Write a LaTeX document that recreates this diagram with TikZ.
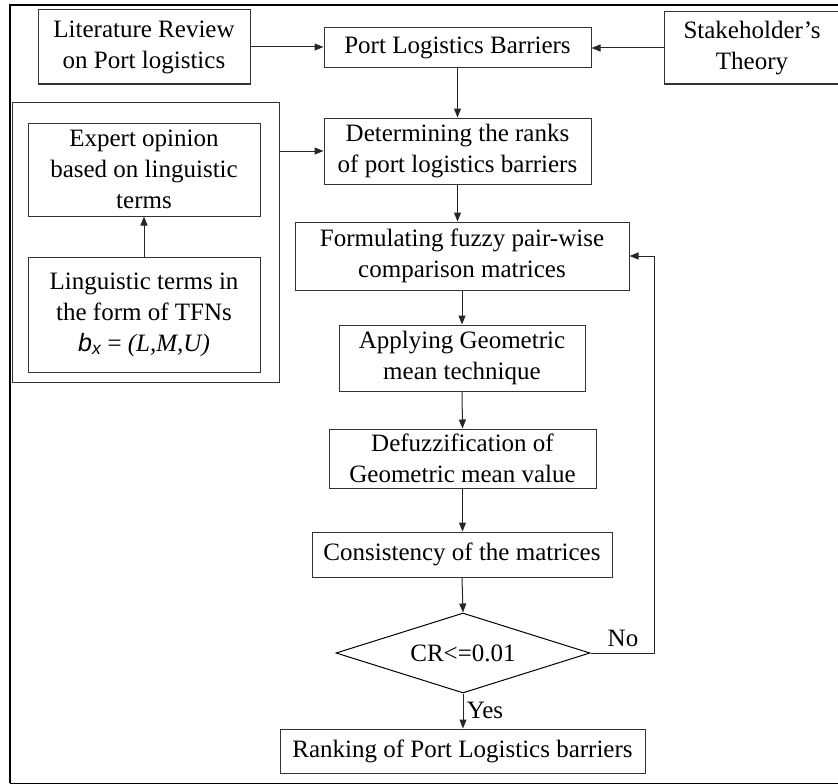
\documentclass[tikz,border=0pt]{standalone}
\usepackage{fontspec}
\setmainfont{Liberation Serif}
\newfontfamily\arialfont{Liberation Sans}
\usetikzlibrary{shapes.geometric,arrows.meta}

\tikzset{every picture/.style={line width=1pt}}
\tikzset{
	procbox/.style={draw=black!80, align=center, inner sep=0pt, font=\fontsize{25}{31}\selectfont},
	flowtext/.style={inner sep=0pt, font=\fontsize{25}{31}\selectfont},
	flowarrow/.style={draw=black!85, -{Triangle[length=9pt,width=7pt]}}
}

\begin{document}
\begin{tikzpicture}[x=1pt,y=1pt,yscale=-1,xscale=1]
	\useasboundingbox (0,0) rectangle (838,784);

	%Outer frame
	\draw [line width=2pt] (10,783) -- (10,5) -- (850,5) ;
	\draw (10,783) -- (850,783) ;

	%Shape: Rectangle [group of expert inputs]
	\node [draw=black!80, minimum width=267pt, minimum height=280pt] (grp) at (145.5,242) {};

	%Flowchart: Process
	\node [procbox, minimum width=212pt, minimum height=74pt] (lit) at (144,47) {Literature Review\\on Port logistics};
	\node [procbox, minimum width=267pt, minimum height=40pt] (plb) at (457.5,47.5) {Port Logistics Barriers};
	\node [procbox, minimum width=176pt, minimum height=72pt] (stk) at (752,48) {Stakeholder’s\\Theory};
	\node [procbox, minimum width=232pt, minimum height=93pt] (exp) at (144,169.5) {Expert opinion\\based on linguistic\\terms};
	\node [procbox, minimum width=232pt, minimum height=115pt] (lng) at (144,314.5) {Linguistic terms in\\the form of TFNs\\{\arialfont\itshape b\textsubscript{x}} = {\itshape (L,M,U)}};
	\node [procbox, minimum width=267pt, minimum height=66pt] (det) at (457.5,151) {Determining the ranks\\of port logistics barriers};
	\node [procbox, minimum width=334pt, minimum height=68pt] (frm) at (462,256) {Formulating fuzzy pair-wise\\comparison matrices};
	\node [procbox, minimum width=246pt, minimum height=66pt] (app) at (462,358) {Applying Geometric\\mean technique};
	\node [procbox, minimum width=267pt, minimum height=59pt] (dfz) at (462.5,458.5) {Defuzzification of\\Geometric mean value};
	\node [procbox, minimum width=300pt, minimum height=45pt] (cns) at (462,554.5) {Consistency of the matrices};
	%Flowchart: Decision
	\node [procbox, draw=black, diamond, aspect=3.2, minimum width=254pt, minimum height=80pt] (crd) at (463,653) {CR<=0.01};
	\node [procbox, minimum width=365pt, minimum height=44pt] (rnk) at (462.5,751) {Ranking of Port Logistics barriers};

	%Straight Lines
	\draw [flowarrow] (lit.east) -- (lit.east -| plb.west) ;
	\draw [flowarrow] (stk.west) -- (stk.west -| plb.east) ;
	\draw [flowarrow] (plb.south) -- (det.north) ;
	\draw [flowarrow] (det.west -| grp.east) -- (det.west) ;
	\draw [flowarrow] (lng.north) -- (exp.south) ;
	\draw [flowarrow] (det.south) -- (det.south |- frm.north) ;
	\draw [flowarrow] (frm.south) -- (app.north) ;
	\draw [flowarrow] (app.south) -- (dfz.north) ;
	\draw [flowarrow] (dfz.south) -- (dfz.south |- cns.north) ;
	\draw [flowarrow] (cns.south) -- (crd.north) ;
	\draw [flowarrow] (crd.south) -- (crd.south |- rnk.north) ;
	\draw [flowarrow] (crd.east) -| ([xshift=25pt]frm.east) -- (frm.east) ;

	% Text Node
	\node [flowtext] (no) at (623,638) {No};
	% Text Node
	\node [flowtext] (yes) at (485,710) {Yes};

\end{tikzpicture}
\end{document}
